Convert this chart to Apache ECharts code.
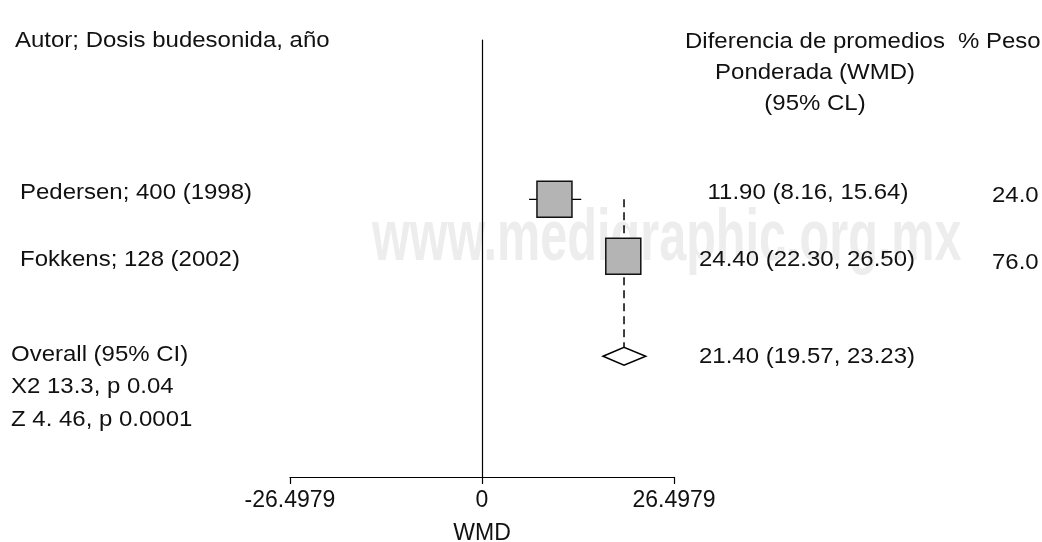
<!DOCTYPE html>
<html lang="es">
<head>
  <meta charset="UTF-8">
  <title>WMD forest plot</title>
  <script src="https://cdn.jsdelivr.net/npm/echarts@6/dist/echarts.min.js"></script>
  <style>
    html, body { margin: 0; padding: 0; background: #fff; }
  </style>
</head>
<body>
  <div id="main" style="width: 1042px;height: 542px;"></div>

  <script>
    // estudios (posiciones)
    var studies = ['Pedersen; 400 (1998)', 'Fokkens; 128 (2002)']
    var studyMean = [10.0, 19.5]
    var studyLow = [6.5, 18.2]
    var studyHigh = [13.7, 20.9]
    var studyRow = [2.77, 3.76]
    var wmdText = ['11.90 (8.16, 15.64)', '24.40 (22.30, 26.50)']
    var weightText = ['24.0', '76.0']

    // resultado global: [inferior, estimado, superior]
    var overallWmd = [16.7, 19.6, 22.6]
    var overallRow = 5.5
    var overallWmdText = '21.40 (19.57, 23.23)'
    var overallText = ['Overall (95% CI)', 'X2 13.3, p 0.04', 'Z 4. 46, p 0.0001']

    var xTicks = [-26.4979, 0, 26.4979]

    var font = 'Liberation Sans, Arial, sans-serif'
    var fs = 22
    var txtColor = '#111'

    var mCharts = echarts.init(document.getElementById('main'))

    var studyData = studies.map(function (s, i) {
      return [studyMean[i], studyRow[i], studyLow[i], studyHigh[i]]
    })

    // el texto del original esta algo estirado a lo ancho
    function txt(x, y, text, align) {
      return {
        type: 'text',
        x: x,
        y: y,
        scaleX: 1.09,
        style: {
          text: text,
          fill: txtColor,
          font: fs + 'px ' + font,
          textAlign: align || 'left',
          textVerticalAlign: 'middle'
        }
      }
    }

    var graphics = [
      {
        type: 'text',
        x: 372,
        y: 240,
        z: -10,
        scaleX: 0.675,
        style: {
          text: 'www.medigraphic.org.mx',
          fill: '#ededed',
          font: 'bold 72px ' + font,
          textVerticalAlign: 'middle'
        }
      },
      txt(15, 41, 'Autor; Dosis budesonida, año'),
      txt(685, 42, 'Diferencia de promedios'),
      txt(958, 42, '% Peso'),
      txt(815, 73, 'Ponderada (WMD)', 'center'),
      txt(815, 104, '(95% CL)', 'center'),
      txt(20, 193, studies[0]),
      txt(20, 260, studies[1]),
      txt(808, 193, wmdText[0], 'center'),
      txt(807, 260, wmdText[1], 'center'),
      txt(992, 196, weightText[0]),
      txt(992, 263, weightText[1]),
      txt(807, 357, overallWmdText, 'center'),
      txt(11, 355, overallText[0]),
      txt(11, 387, overallText[1]),
      txt(11, 420, overallText[2])
    ]

    var option = {
      animation: false,
      grid: {
        left: 290,
        right: 368,
        top: 40,
        bottom: 65,
        outerBoundsMode: 'none',
        containLabel: false
      },
      xAxis: {
        type: 'value',
        min: xTicks[0],
        max: xTicks[2],
        interval: xTicks[2],
        name: 'WMD',
        nameLocation: 'middle',
        nameGap: 45,
        nameTextStyle: { color: txtColor, fontSize: 23, fontFamily: font },
        axisLine: { onZero: false, lineStyle: { color: '#000', width: 1.2 } },
        axisTick: { length: 7, lineStyle: { color: '#000', width: 1.2 } },
        axisLabel: {
          margin: 12,
          color: txtColor,
          fontSize: 23,
          fontFamily: font,
          formatter: function (v) {
            return Math.abs(v) < 1e-9 ? '0' : v.toFixed(4)
          }
        },
        splitLine: { show: false }
      },
      yAxis: {
        type: 'value',
        inverse: true,
        min: 0,
        max: 7.6,
        axisLine: { show: true, onZero: true, lineStyle: { color: '#000', width: 1.2 } },
        axisTick: { show: false },
        axisLabel: { show: false },
        splitLine: { show: false }
      },
      graphic: graphics,
      series: [
        {
          // linea discontinua del estimado global
          type: 'line',
          z: 1,
          symbol: 'none',
          data: [[overallWmd[1], studyRow[0]], [overallWmd[1], overallRow]],
          lineStyle: { color: '#000', width: 1.5, type: [8, 5] }
        },
        {
          type: 'custom',
          z: 2,
          data: studyData,
          renderItem: function (params, api) {
            var c = api.coord([api.value(0), api.value(1)])
            var lo = api.coord([api.value(2), api.value(1)])
            var hi = api.coord([api.value(3), api.value(1)])
            return {
              type: 'group',
              children: [
                {
                  type: 'line',
                  shape: { x1: lo[0], y1: lo[1], x2: hi[0], y2: hi[1] },
                  style: { stroke: '#000', lineWidth: 1.2 }
                },
                {
                  type: 'rect',
                  shape: { x: c[0] - 17.5, y: c[1] - 18, width: 35, height: 36 },
                  style: { fill: '#b4b4b4', stroke: '#111', lineWidth: 1.5 }
                }
              ]
            }
          }
        },
        {
          type: 'custom',
          z: 3,
          data: [[overallWmd[0], overallWmd[1], overallWmd[2], overallRow]],
          renderItem: function (params, api) {
            var row = api.value(3)
            var l = api.coord([api.value(0), row])
            var m = api.coord([api.value(1), row])
            var r = api.coord([api.value(2), row])
            return {
              type: 'polygon',
              shape: {
                points: [[l[0], l[1]], [m[0], m[1] - 9], [r[0], r[1]], [m[0], m[1] + 9]]
              },
              style: { fill: '#fff', stroke: '#000', lineWidth: 1.5 }
            }
          }
        }
      ]
    }
    mCharts.setOption(option)
  </script>
</body>
</html>
